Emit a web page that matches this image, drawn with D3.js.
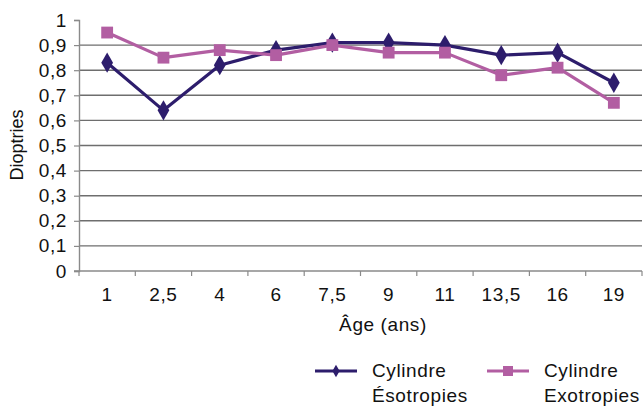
<!DOCTYPE html>
<html>
<head>
<meta charset="utf-8">
<script src="https://cdn.jsdelivr.net/npm/d3@7"></script>
<style>
  body { margin: 0; background: #fff; }
  text { font-family: "Liberation Sans", Arial, sans-serif; fill: #111; }
</style>
</head>
<body>
<div id="chart"></div>
<script>
// data
var ages = ["1", "2,5", "4", "6", "7,5", "9", "11", "13,5", "16", "19"];
var esotropies = [0.83, 0.64, 0.82, 0.88, 0.91, 0.91, 0.90, 0.86, 0.87, 0.75];
var exotropies = [0.95, 0.85, 0.88, 0.86, 0.90, 0.87, 0.87, 0.78, 0.81, 0.67];
var yTicks = [0, 0.1, 0.2, 0.3, 0.4, 0.5, 0.6, 0.7, 0.8, 0.9, 1];

var W = 644, H = 409;
var margin = {top: 20, right: 2, bottom: 138, left: 79},
    width = W - margin.left - margin.right,
    height = H - margin.top - margin.bottom;

var navy = "#2d1d6c", pink = "#b25ea2";
var fmt = function(d) { return d3.format("")(d).replace(".", ","); };

var svg = d3.select("#chart")
            .append("svg")
            .attr("width", W)
            .attr("height", H);
var g = svg.append("g")
           .attr("transform", "translate(" + margin.left + "," + margin.top + ")");

var x = d3.scaleBand()
          .domain(ages)
          .range([0, width]);
var y = d3.scaleLinear()
          .domain([0, 1])
          .range([height, 0]);

// gridlines
g.selectAll(".grid")
  .data(yTicks.filter(function(d) { return d > 0 && d < 1; }))
  .enter()
  .append("line")
    .attr("x1", 0)
    .attr("x2", width)
    .attr("y1", function(d) { return y(d); })
    .attr("y2", function(d) { return y(d); })
    .attr("stroke", "#6e6e6e")
    .attr("stroke-width", 1.4);

// y axis
var yAxis = g.append("g")
  .call(d3.axisLeft(y).tickValues(yTicks).tickFormat(fmt).tickSize(5).tickPadding(7));
yAxis.select(".domain").attr("stroke", "#8a8a8a").attr("stroke-width", 1.4);
yAxis.selectAll(".tick line").attr("stroke", "#8a8a8a").attr("stroke-width", 1.2);
yAxis.selectAll("text")
  .style("font-size", "19px")
  .style("letter-spacing", "0.6px")
  .attr("fill", "#111");

// x axis, ticks on category boundaries
var xAxis = g.append("g")
  .attr("transform", "translate(0," + height + ")");
xAxis.append("line")
  .attr("x1", -5).attr("x2", width)
  .attr("stroke", "#8a8a8a").attr("stroke-width", 1.4);
xAxis.selectAll(".xt")
  .data(ages)
  .enter()
  .append("line")
    .attr("x1", function(d) { return x(d) + x.bandwidth(); })
    .attr("x2", function(d) { return x(d) + x.bandwidth(); })
    .attr("y1", 0).attr("y2", 5)
    .attr("stroke", "#8a8a8a").attr("stroke-width", 1.2);
xAxis.append("line")
  .attr("x1", 0).attr("x2", 0).attr("y1", 0).attr("y2", 5)
  .attr("stroke", "#8a8a8a").attr("stroke-width", 1.2);
xAxis.selectAll(".xl")
  .data(ages)
  .enter()
  .append("text")
    .attr("x", function(d) { return x(d) + x.bandwidth() / 2; })
    .attr("y", 30)
    .attr("text-anchor", "middle")
    .style("font-size", "19px")
    .style("letter-spacing", "0.6px")
    .text(function(d) { return d; });

// axis titles
svg.append("text")
  .attr("x", 383).attr("y", 331)
  .attr("text-anchor", "middle")
  .style("font-size", "19px")
  .style("letter-spacing", "0.6px")
  .text("Âge (ans)");
svg.append("text")
  .attr("transform", "translate(23,145) rotate(-90)")
  .attr("text-anchor", "middle")
  .style("font-size", "18px")
  .text("Dioptries");

// series
var series = [
  {name: "Ésotropies", values: esotropies, color: navy, shape: d3.symbolDiamond, size: 120},
  {name: "Exotropies", values: exotropies, color: pink, shape: d3.symbolSquare, size: 140}
];

var line = d3.line()
  .x(function(d, i) { return x(ages[i]) + x.bandwidth() / 2; })
  .y(function(d) { return y(d); });

series.forEach(function(s) {
  g.append("path")
    .datum(s.values)
    .attr("d", line)
    .attr("fill", "none")
    .attr("stroke", s.color)
    .attr("stroke-width", 3.2)
    .attr("stroke-linejoin", "round");
  g.selectAll(null)
    .data(s.values)
    .enter()
    .append("path")
      .attr("d", d3.symbol().type(s.shape).size(s.size))
      .attr("transform", function(d, i) {
        return "translate(" + (x(ages[i]) + x.bandwidth() / 2) + "," + y(d) + ")";
      })
      .attr("fill", s.color);
});

// legend
var legendX = [315, 487];
series.forEach(function(s, i) {
  var lg = svg.append("g").attr("transform", "translate(" + legendX[i] + ",371)");
  lg.append("line")
    .attr("x1", 0).attr("x2", 42)
    .attr("stroke", s.color).attr("stroke-width", 3.2);
  lg.append("path")
    .attr("d", d3.symbol().type(s.shape).size(s.shape === d3.symbolSquare ? 100 : 45))
    .attr("transform", "translate(21,0)")
    .attr("fill", s.color);
  lg.append("text")
    .attr("x", 57).attr("y", 6)
    .style("font-size", "19px")
    .style("letter-spacing", "0.6px")
    .text("Cylindre");
  lg.append("text")
    .attr("x", 57).attr("y", 31)
    .style("font-size", "19px")
    .style("letter-spacing", "0.6px")
    .text(s.name);
});
</script>
</body>
</html>
